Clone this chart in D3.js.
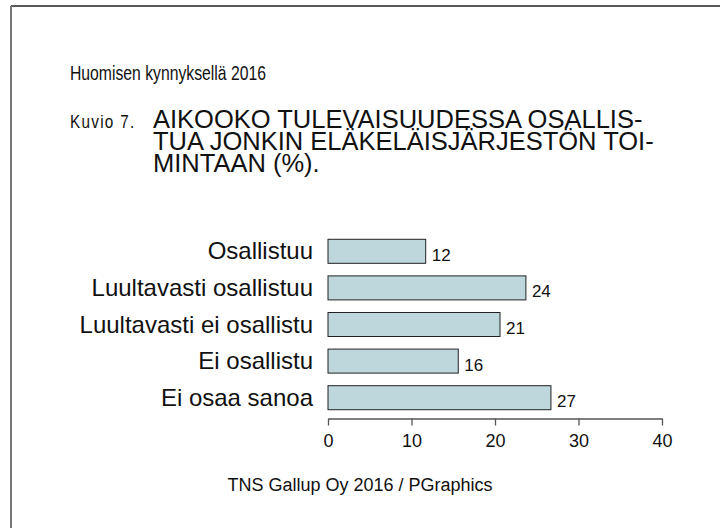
<!DOCTYPE html>
<html>
<head>
<meta charset="utf-8">
<script src="https://cdn.jsdelivr.net/npm/d3@7"></script>
<style>
	body { margin: 0; background: #fff; }
	svg text { font-family: "Liberation Sans", Arial, sans-serif; fill: #111; }
</style>
</head>
<body>
<div id="chart"></div>
<script>
const categories = ["Osallistuu", "Luultavasti osallistuu", "Luultavasti ei osallistu", "Ei osallistu", "Ei osaa sanoa"]
const values = [11.7, 23.7, 20.6, 15.6, 26.7]
const valueLabels = ["12", "24", "21", "16", "27"]
const xTicks = [0, 10, 20, 30, 40]
const heading = "Huomisen kynnyksellä 2016"
const figureNo = "Kuvio 7."
const titleLines = ["AIKOOKO TULEVAISUUDESSA OSALLIS-", "TUA JONKIN ELÄKELÄISJÄRJESTÖN TOI-", "MINTAAN (%)."]
const source = "TNS Gallup Oy 2016 / PGraphics"

const width = 720
const height = 528

const svg = d3.select("#chart").append("svg")
	.attr("width", width)
	.attr("height", height)

// frame, only top and left edges are visible
svg.append("line")
	.attr("x1", 11).attr("y1", 6).attr("x2", width).attr("y2", 6)
	.attr("stroke", "#222").attr("stroke-width", 1.5)
svg.append("line")
	.attr("x1", 11).attr("y1", 6).attr("x2", 11).attr("y2", height)
	.attr("stroke", "#777").attr("stroke-width", 2)

// heading is set in a condensed face, no narrow font here so squeeze it
svg.append("g")
	.attr("transform", "translate(70, 80) scale(0.75, 1)")
	.append("text")
		.style("font-size", "21px")
		.text(heading)

svg.append("g")
	.attr("transform", "translate(70, 128) scale(0.85, 1)")
	.append("text")
		.style("font-size", "18px")
		.style("letter-spacing", "1.5px")
		.text(figureNo)

svg.append("g").selectAll("text")
	.data(titleLines)
	.enter().append("text")
		.attr("x", 153)
		.attr("y", (d, i) => 128 + i * 22)
		.style("font-size", "25.5px")
		.text(d => d)

const xScale = d3.scaleLinear()
	.domain([0, 40])
	.range([328, 662])
const yScale = d3.scaleBand()
	.domain(categories)
	.range([233, 416])
	.paddingInner(0.344)
	.paddingOuter(0.172)

const chart = svg.append("g")

chart.selectAll("rect")
	.data(values)
	.enter().append("rect")
		.attr("x", xScale(0))
		.attr("y", (d, i) => yScale(categories[i]))
		.attr("width", d => xScale(d) - xScale(0))
		.attr("height", yScale.bandwidth())
		.attr("fill", "#bdd7dc")
		.attr("stroke", "#222")
		.attr("stroke-width", 1)

chart.selectAll(".value")
	.data(values)
	.enter().append("text")
		.attr("class", "value")
		.attr("x", d => xScale(d) + 6)
		.attr("y", (d, i) => yScale(categories[i]) + yScale.bandwidth() / 2 + 9.5)
		.style("font-size", "17px")
		.text((d, i) => valueLabels[i])

chart.selectAll(".cat")
	.data(categories)
	.enter().append("text")
		.attr("class", "cat")
		.attr("x", 313)
		.attr("y", d => yScale(d) + yScale.bandwidth() / 2 + 8)
		.attr("text-anchor", "end")
		.style("font-size", "24px")
		.text(d => d)

const axis = svg.append("g")
	.attr("transform", "translate(0, 418.5)")
	.call(d3.axisBottom(xScale).tickValues(xTicks).tickSize(7).tickSizeOuter(0))
axis.select(".domain").attr("stroke", "#555").attr("stroke-width", 1.3)
axis.selectAll(".tick line").attr("stroke", "#555").attr("stroke-width", 1.3)
axis.selectAll(".tick text")
	.attr("y", 28)
	.attr("dy", 0)
	.style("font-size", "18px")
	.style("font-family", "\"Liberation Sans\", Arial, sans-serif")
	.attr("fill", "#111")

svg.append("text")
	.attr("x", 360).attr("y", 491)
	.attr("text-anchor", "middle")
	.style("font-size", "18px")
	.text(source)
</script>
</body>
</html>
